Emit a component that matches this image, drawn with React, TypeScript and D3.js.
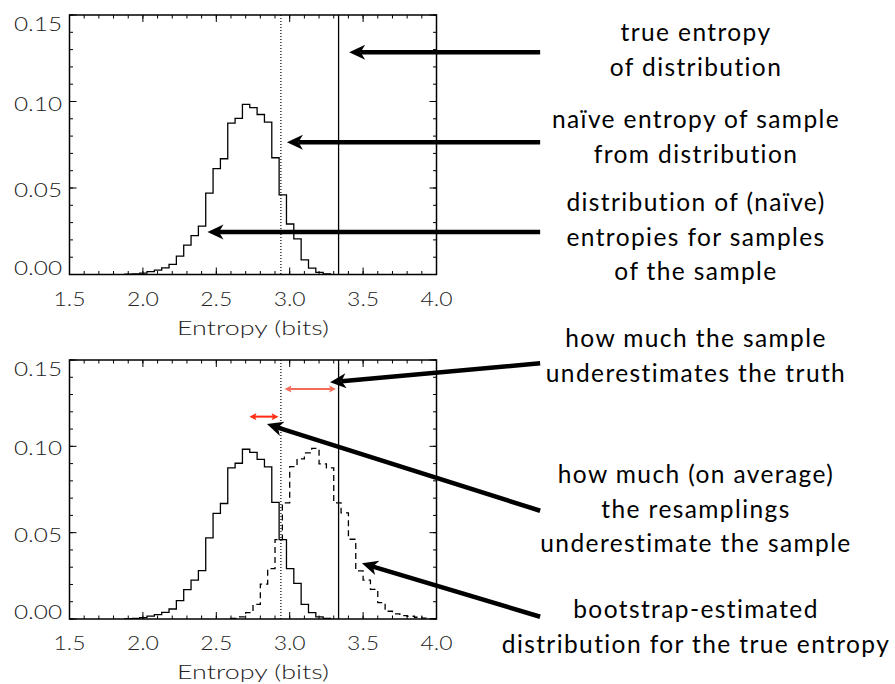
import * as d3 from "d3";

// axis ranges shared by both panels
const xDomain: [number, number] = [1.5, 4.0];
const yDomain: [number, number] = [0, 0.15];
const binWidth = 0.05;

// naive entropies of resamples of the sample (solid histogram)
const resampleStart = 1.878;
const resampleFreq = [
  0.0002, 0.0004, 0.0008, 0.0017, 0.0025, 0.0038, 0.0058, 0.0106, 0.017, 0.0225,
  0.028, 0.047, 0.0612, 0.0669, 0.0875, 0.0902, 0.0983, 0.0965, 0.0925, 0.0881,
  0.0675, 0.046, 0.0292, 0.0206, 0.0085, 0.0037, 0.0012, 0.0003,
];

// bootstrap-estimated distribution of the true entropy (dashed histogram)
const bootStart = 2.6;
const bootFreq = [
  0.0003, 0.0012, 0.0037, 0.0085, 0.0202, 0.0292, 0.046, 0.0673, 0.0883, 0.0927,
  0.0962, 0.0988, 0.0898, 0.0875, 0.0673, 0.0615, 0.0462, 0.0279, 0.0225, 0.0172,
  0.0095, 0.0045, 0.003, 0.002, 0.0016, 0.001, 0.0005, 0.0002,
];

const naiveEntropy = 2.94;
const trueEntropy = 3.333;

const xTitle = "Entropy (bits)";

// annotation text
const topNotes = [
  ["true entropy", "of distribution"],
  ["naïve entropy of sample", "from distribution"],
  ["distribution of (naïve)", "entropies for samples", "of the sample"],
];
const bottomNotes = [
  ["how much the sample", "underestimates the truth"],
  ["how much (on average)", "the resamplings", "underestimate the sample"],
  ["bootstrap-estimated", "distribution for the true entropy"],
];

// pointer arrows in data units: [tailX, tailY, tipX, tipY]
const topArrows = [
  [4.706, 0.1285, 3.405, 0.1285],
  [4.706, 0.0765, 2.981, 0.0765],
  [4.706, 0.0245, 2.44, 0.0245],
];
const bottomArrows = [
  [4.706, 0.1481, 3.275, 0.1371],
  [4.706, 0.0627, 2.845, 0.1129],
  [4.706, 0.0013, 3.492, 0.0323],
];
// red double-headed spans: [x0, x1, y]
const redSpans = [
  [2.965, 3.315, 0.1332],
  [2.726, 2.924, 0.1172],
];

const W = 895;
const H = 684;
const left = 69.5;
const right = 436.5;
const panels = [
  { top: 15, bottom: 274.5 },
  { top: 360, bottom: 619 },
];
const noteX = 696;
const topNoteBase = [41, 128, 211];
const bottomNoteBase = [347, 483, 618];
const lineGap = 34.5;
const redColors = ["#f26b58", "#ff2b14"];

const tickFont = "Lato, 'DejaVu Sans', sans-serif";
const noteFont = "Lato, 'Open Sans', sans-serif";

function stepPoints(start: number, freq: number[]): [number, number][] {
  const pts: [number, number][] = [[start, 0]];
  freq.forEach((v, i) => {
    pts.push([start + i * binWidth, v]);
    pts.push([start + (i + 1) * binWidth, v]);
  });
  pts.push([start + freq.length * binWidth, 0]);
  return pts;
}

function headPoints(tx: number, ty: number, fx: number, fy: number, len: number, half: number, notch: number) {
  const a = Math.atan2(ty - fy, tx - fx);
  const c = Math.cos(a);
  const s = Math.sin(a);
  const p = (u: number, v: number) => [tx - u * c - v * s, ty - u * s + v * c];
  const pts = [p(0, 0), p(len, -half), p(len - notch, 0), p(len, half)];
  return { poly: pts.map((q) => q.join(",")).join(" "), neck: p(len - notch, 0) };
}

function Arrow({ x1, y1, x2, y2 }: { x1: number; y1: number; x2: number; y2: number }) {
  const h = headPoints(x2, y2, x1, y1, 16, 7.5, 4.5);
  return (
    <g>
      <line x1={x1} y1={y1} x2={h.neck[0]} y2={h.neck[1]} stroke="#000" strokeWidth={4.5} />
      <polygon points={h.poly} fill="#000" />
    </g>
  );
}

function DoubleArrow({ x1, x2, y, color }: { x1: number; x2: number; y: number; color: string }) {
  const a = headPoints(x1, y, x2, y, 7, 3.5, 1.5);
  const b = headPoints(x2, y, x1, y, 7, 3.5, 1.5);
  return (
    <g>
      <line x1={a.neck[0]} y1={y} x2={b.neck[0]} y2={y} stroke={color} strokeWidth={2} />
      <polygon points={a.poly} fill={color} />
      <polygon points={b.poly} fill={color} />
    </g>
  );
}

function Panel({ top, bottom, showBoot, idx }: { top: number; bottom: number; showBoot: boolean; idx: number }) {
  const x = d3.scaleLinear().domain(xDomain).range([left, right]);
  const y = d3.scaleLinear().domain(yDomain).range([bottom, top]);
  const line = d3
    .line<[number, number]>()
    .x((d) => x(d[0]))
    .y((d) => y(d[1]));
  const clipId = `clip${idx}`;
  const xMajor = x.ticks(5);
  const xMinor = x.ticks(25);
  const yMajor = y.ticks(3);
  const yMinor = y.ticks(15);
  const fx = d3.format(".1f");
  const fy = d3.format(".2f");
  const maj = 7;
  const min = 3.5;
  return (
    <g>
      <defs>
        <clipPath id={clipId}>
          <rect x={left} y={top} width={right - left} height={bottom - top} />
        </clipPath>
      </defs>
      <g clipPath={`url(#${clipId})`}>
        <path d={line(stepPoints(resampleStart, resampleFreq)) ?? ""} fill="none" stroke="#000" strokeWidth={1.3} />
        {showBoot && (
          <path
            d={line(stepPoints(bootStart, bootFreq)) ?? ""}
            fill="none"
            stroke="#000"
            strokeWidth={1.3}
            strokeDasharray="6,4"
          />
        )}
        <line x1={x(naiveEntropy)} x2={x(naiveEntropy)} y1={top} y2={bottom} stroke="#000" strokeWidth={1.2} strokeDasharray="1,2" />
        <line x1={x(trueEntropy)} x2={x(trueEntropy)} y1={top} y2={bottom} stroke="#000" strokeWidth={1.3} />
      </g>
      {/* ticks on all four sides, pointing inward */}
      <g stroke="#000" strokeWidth={1}>
        {xMinor.map((t) => (
          <g key={`xm${t}`}>
            <line x1={x(t)} x2={x(t)} y1={bottom} y2={bottom - min} />
            <line x1={x(t)} x2={x(t)} y1={top} y2={top + min} />
          </g>
        ))}
        {xMajor.map((t) => (
          <g key={`xM${t}`}>
            <line x1={x(t)} x2={x(t)} y1={bottom} y2={bottom - maj} />
            <line x1={x(t)} x2={x(t)} y1={top} y2={top + maj} />
          </g>
        ))}
        {yMinor.map((t) => (
          <g key={`ym${t}`}>
            <line x1={left} x2={left + min} y1={y(t)} y2={y(t)} />
            <line x1={right} x2={right - min} y1={y(t)} y2={y(t)} />
          </g>
        ))}
        {yMajor.map((t) => (
          <g key={`yM${t}`}>
            <line x1={left} x2={left + maj} y1={y(t)} y2={y(t)} />
            <line x1={right} x2={right - maj} y1={y(t)} y2={y(t)} />
          </g>
        ))}
      </g>
      <rect x={left} y={top} width={right - left} height={bottom - top} fill="none" stroke="#000" strokeWidth={1.5} />
      <g fontFamily={tickFont} fontWeight={300} fontSize={19} fill="#222">
        {yMajor.map((t) => (
          <text
            key={`yl${t}`}
            x={62}
            y={Math.min(bottom, Math.max(top + 16, y(t) + 9))}
            textAnchor="end"
            textLength={48}
            lengthAdjust="spacingAndGlyphs"
          >
            {fy(t)}
          </text>
        ))}
        {xMajor.map((t) => (
          <text key={`xl${t}`} x={x(t)} y={bottom + 31} textAnchor="middle" textLength={32} lengthAdjust="spacingAndGlyphs">
            {fx(t)}
          </text>
        ))}
        <text x={(left + right) / 2} y={bottom + 60} textAnchor="middle" fontSize={20} textLength={152} lengthAdjust="spacingAndGlyphs">
          {xTitle}
        </text>
      </g>
      {(showBoot ? bottomArrows : topArrows).map((a, i) => (
        <Arrow key={`ar${i}`} x1={x(a[0])} y1={y(a[1])} x2={x(a[2])} y2={y(a[3])} />
      ))}
      {showBoot &&
        redSpans.map((s, i) => <DoubleArrow key={`rs${i}`} x1={x(s[0])} x2={x(s[1])} y={y(s[2])} color={redColors[i]} />)}
    </g>
  );
}

function Notes({ notes, bases }: { notes: string[][]; bases: number[] }) {
  return (
    <g fontFamily={noteFont} fontSize={24.5} letterSpacing={1.4} fill="#000" textAnchor="middle">
      {notes.map((lines, i) =>
        lines.map((l, j) => (
          <text key={`${i}-${j}`} x={noteX} y={bases[i] + j * lineGap}>
            {l}
          </text>
        ))
      )}
    </g>
  );
}

export default function App() {
  return (
    <div style={{ position: "absolute", left: 0, top: 0 }}>
      <svg width={W} height={H} viewBox={`0 0 ${W} ${H}`} style={{ display: "block", background: "#fff" }}>
        <rect width={W} height={H} fill="#fff" />
        {panels.map((p, i) => (
          <Panel key={i} idx={i} top={p.top} bottom={p.bottom} showBoot={i === 1} />
        ))}
        <Notes notes={topNotes} bases={topNoteBase} />
        <Notes notes={bottomNotes} bases={bottomNoteBase} />
      </svg>
    </div>
  );
}
